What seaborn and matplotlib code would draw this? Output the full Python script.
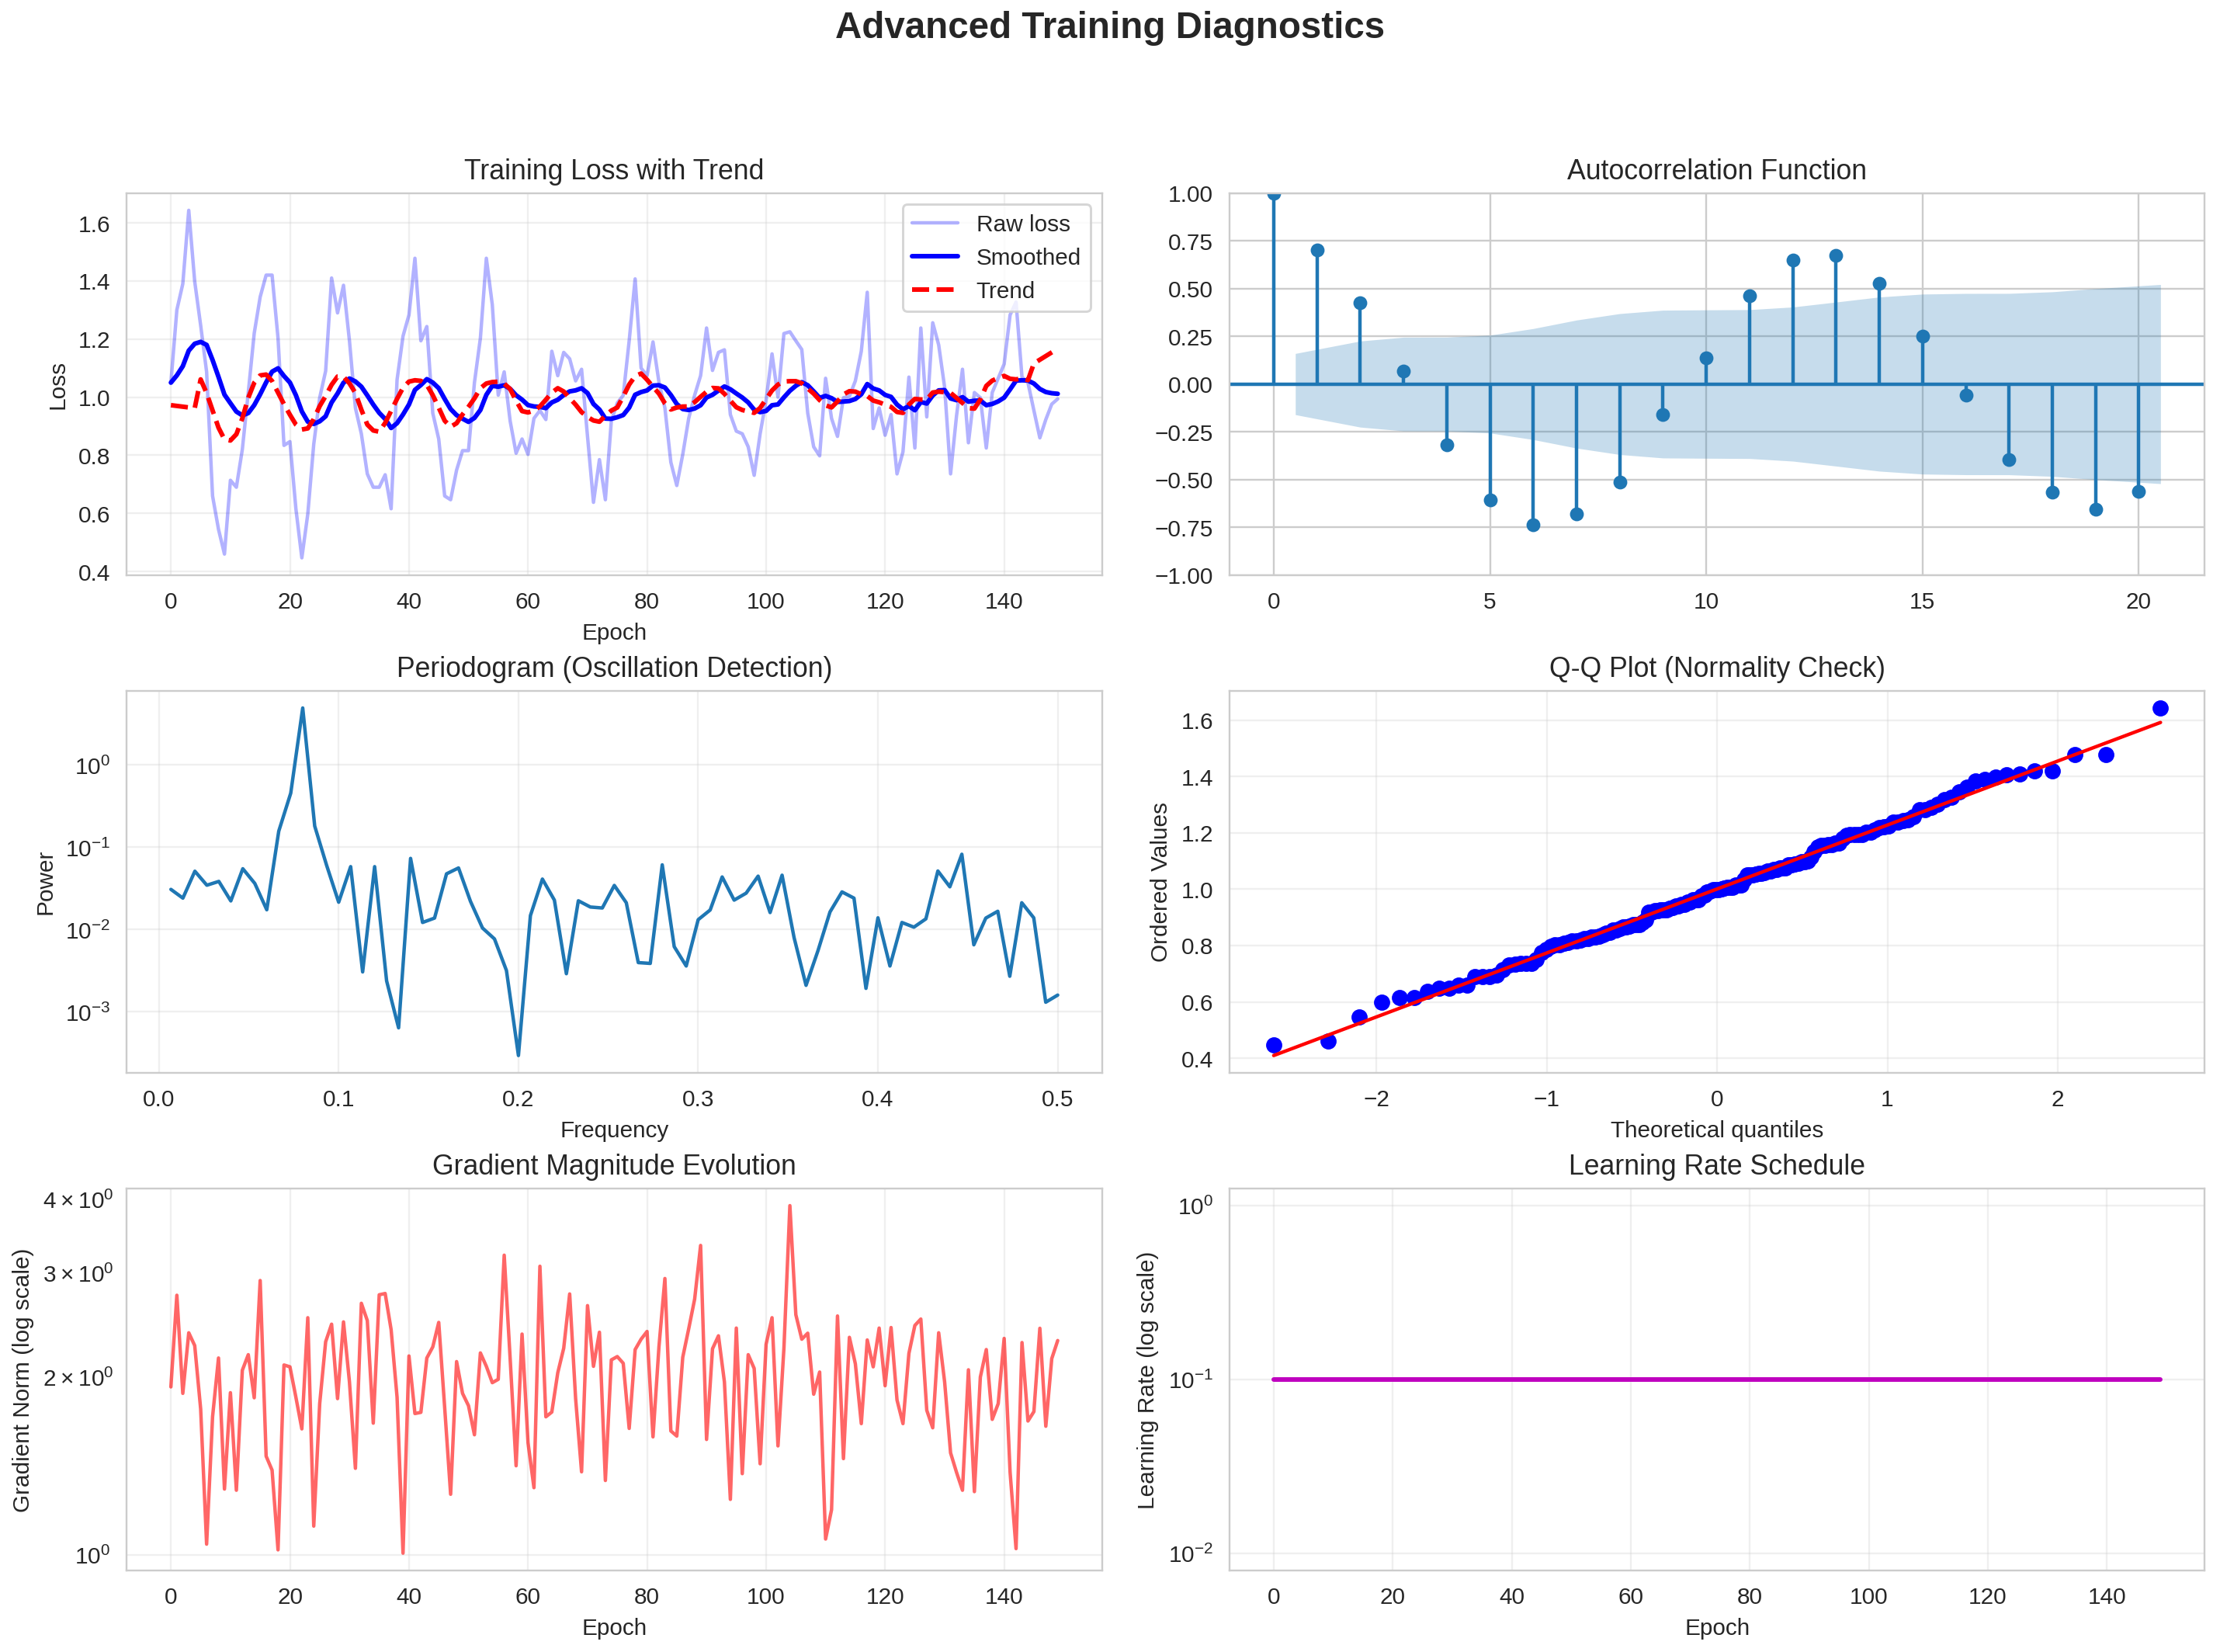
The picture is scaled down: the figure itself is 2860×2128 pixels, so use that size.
from statistics import NormalDist

import matplotlib

matplotlib.use("Agg")

import numpy as np
import matplotlib.pyplot as plt
import seaborn as sns

# --- data ---
raw_loss = [
    1.05, 1.30, 1.39, 1.643, 1.398, 1.247, 1.087, 0.66, 0.545, 0.46,
    0.714, 0.69, 0.82, 1.016, 1.22, 1.345, 1.42, 1.42, 1.203, 0.834,
    0.847, 0.616, 0.447, 0.598, 0.838, 0.998, 1.09, 1.41, 1.29, 1.385,
    1.194, 0.963, 0.874, 0.736, 0.69, 0.69, 0.733, 0.616, 1.06, 1.21,
    1.283, 1.478, 1.194, 1.243, 0.945, 0.856, 0.66, 0.647, 0.749, 0.816,
    0.816, 1.05, 1.203, 1.478, 1.318, 1.007, 1.087, 0.918, 0.807, 0.856,
    0.803, 0.927, 0.954, 0.923, 1.158, 1.074, 1.154, 1.132, 1.056, 1.096,
    0.865, 0.638, 0.785, 0.647, 0.918, 0.98, 1.006, 1.194, 1.407, 1.10,
    1.074, 1.19, 1.052, 0.963, 0.776, 0.696, 0.803, 0.927, 1.007, 1.074,
    1.238, 1.092, 1.154, 1.163, 0.94, 0.883, 0.874, 0.829, 0.731, 0.874,
    0.989, 1.149, 1.0, 1.219, 1.225, 1.194, 1.164, 0.945, 0.829, 0.798,
    1.065, 0.927, 0.865, 0.998, 1.003, 1.056, 1.158, 1.361, 0.892, 0.963,
    0.869, 0.94, 0.736, 0.812, 1.069, 0.825, 1.238, 0.932, 1.256, 1.18,
    1.034, 0.736, 0.936, 1.096, 0.843, 1.016, 0.998, 0.825, 1.016, 1.065,
    1.114, 1.283, 1.327, 1.069, 1.05, 0.954, 0.86, 0.923, 0.976, 0.994,
]

grad_norm = [
    1.925, 2.753, 1.877, 2.378, 2.262, 1.766, 1.042, 1.713, 2.155, 1.292,
    1.882, 1.286, 2.054, 2.183, 1.845, 2.916, 1.469, 1.391, 1.019, 2.097,
    2.082, 1.849, 1.634, 2.522, 1.118, 1.803, 2.296, 2.459, 1.839, 2.481,
    1.963, 1.401, 2.668, 2.494, 1.671, 2.758, 2.772, 2.407, 1.849, 1.006,
    2.172, 1.735, 1.743, 2.155, 2.25, 2.476, 1.775, 1.266, 2.125, 1.877,
    1.789, 1.597, 2.198, 2.086, 1.957, 1.983, 3.219, 2.150, 1.415, 2.366,
    1.549, 1.299, 3.083, 1.713, 1.745, 2.034, 2.239, 2.767, 1.839, 1.382,
    2.644, 2.086, 2.383, 1.336, 2.139, 2.167, 2.111, 1.637, 2.227, 2.319,
    2.39, 1.584, 2.25, 2.939, 1.621, 1.589, 2.161, 2.415, 2.712, 3.344,
    1.568, 2.234, 2.35, 1.963, 1.241, 2.422, 1.372, 2.183, 2.069, 1.426,
    2.273, 2.522, 1.529, 2.24, 3.906, 2.552, 2.319, 2.374, 1.871, 2.04,
    1.063, 1.192, 2.539, 1.455, 2.336, 2.107, 1.668, 2.312, 2.082, 2.422,
    1.934, 2.427, 1.829, 1.668, 2.194, 2.447, 2.509, 1.757, 1.641, 2.378,
    1.963, 1.488, 1.379, 1.286, 2.058, 1.279, 2.0, 2.227, 1.696, 1.803,
    2.326, 1.379, 1.024, 2.289, 1.685, 1.748, 2.42, 1.651, 2.15, 2.307,
]

learning_rate = [0.1] * 150

acf_values = [
    1.0, 0.70, 0.427, 0.067, -0.319, -0.607, -0.737, -0.681, -0.513, -0.159,
    0.136, 0.461, 0.649, 0.675, 0.526, 0.252, -0.058, -0.397, -0.565, -0.655,
    -0.562,
]

power = [
    0.0308, 0.0241, 0.0512, 0.0346, 0.0385, 0.0223, 0.0549, 0.0364, 0.0174, 0.157,
    0.455, 4.93, 0.181, 0.060, 0.0215, 0.0582, 0.00306, 0.0582, 0.00238, 0.00064,
    0.0733, 0.0122, 0.0138, 0.0476, 0.0561, 0.022, 0.01045, 0.0077, 0.00318, 0.000295,
    0.0148, 0.0411, 0.0228, 0.00291, 0.0224, 0.0188, 0.0183, 0.0344, 0.0212, 0.00397,
    0.00388, 0.0612, 0.0062, 0.00361, 0.0132, 0.0173, 0.0436, 0.0228, 0.0277, 0.0446,
    0.0161, 0.0458, 0.0080, 0.0021, 0.00557, 0.0164, 0.0287, 0.0241, 0.00193, 0.0139,
    0.00361, 0.0122, 0.0107, 0.0135, 0.0515, 0.0331, 0.0823, 0.00653, 0.0138, 0.0167,
    0.00271, 0.0212, 0.0139, 0.00131, 0.0016,
]

n = len(raw_loss)
epochs = np.arange(n)
freqs = np.arange(1, len(power) + 1) / n
lags = np.arange(len(acf_values))
loss = np.array(raw_loss)

# smoothed curve: exponential moving average of the raw loss
smoothed = np.empty(n)
smoothed[0] = loss[0]
for i in range(1, n):
    smoothed[i] = 0.9 * smoothed[i - 1] + 0.1 * loss[i]

# trend: centred 2x10 moving average, ends extended linearly
period = 10
filt = np.r_[0.5, np.ones(period - 1), 0.5] / period
half = period // 2
trend = np.full(n, np.nan)
trend[half:n - half] = np.convolve(loss, filt, mode="valid")
front, back = half, n - half - 1
k, c = np.polyfit(np.arange(front, front + period), trend[front:front + period], 1)
trend[:front] = k * np.arange(front) + c
k, c = np.polyfit(np.arange(back - period, back), trend[back - period:back], 1)
trend[back + 1:] = k * np.arange(back + 1, n) + c

# acf confidence band (Bartlett)
acf_arr = np.array(acf_values)
varacf = (1 + 2 * np.cumsum(np.r_[0, acf_arr[1:-1] ** 2])) / n
band = 1.96 * np.sqrt(varacf)
band_x = lags[1:].astype(float)
band_x[0] -= 0.5
band_x[-1] += 0.5

# Q-Q: ordered values against normal order statistic medians
ordered = np.sort(loss)
m = np.empty(n)
m[-1] = 0.5 ** (1.0 / n)
m[0] = 1 - m[-1]
m[1:-1] = (np.arange(2, n) - 0.3175) / (n + 0.365)
theo = np.array([NormalDist().inv_cdf(p) for p in m])
slope, intercept = np.polyfit(theo, ordered, 1)

# --- figure ---
sns.set_style("whitegrid")
plt.rcParams["font.family"] = ["Liberation Sans", "DejaVu Sans"]

DPI = 214
fig, axes = plt.subplots(3, 2, figsize=(2860.5 / DPI, 2128.5 / DPI), dpi=DPI)
fig.subplots_adjust(left=0.057, right=0.993, bottom=0.0493, top=0.883,
                    wspace=0.1305, hspace=0.3018)
fig.suptitle("Advanced Training Diagnostics", fontsize=16, fontweight="bold",
             y=0.9828, va="center")

ax = axes[0, 0]
sns.lineplot(x=epochs, y=loss, ax=ax, color="b", alpha=0.3, label="Raw loss")
sns.lineplot(x=epochs, y=smoothed, ax=ax, color="b", linewidth=2, label="Smoothed")
sns.lineplot(x=epochs, y=trend, ax=ax, color="r", linewidth=2, linestyle="--", label="Trend")
ax.set_title("Training Loss with Trend")
ax.set_xlabel("Epoch")
ax.set_ylabel("Loss")
ax.legend(loc="upper right")
ax.grid(True, alpha=0.3)

ax = axes[0, 1]
ax.vlines(lags, 0, acf_arr, colors="C0")
ax.axhline(0, color="C0")
ax.margins(0.05)
ax.plot(lags, acf_arr, "o", markersize=5, color="C0")
ax.set_ylim(-1, 1)
ax.fill_between(band_x, -band, band, alpha=0.25, color="C0", linewidth=0)
ax.set_title("Autocorrelation Function")

ax = axes[1, 0]
sns.lineplot(x=freqs, y=power, ax=ax, color="C0")
ax.set_yscale("log")
ax.set_title("Periodogram (Oscillation Detection)")
ax.set_xlabel("Frequency")
ax.set_ylabel("Power")
ax.grid(True, alpha=0.3)

ax = axes[1, 1]
ax.plot(theo, ordered, "bo")
ax.plot(theo, slope * theo + intercept, "r-")
ax.set_title("Q-Q Plot (Normality Check)")
ax.set_xlabel("Theoretical quantiles")
ax.set_ylabel("Ordered Values")
ax.grid(True, alpha=0.3)

ax = axes[2, 0]
sns.lineplot(x=epochs, y=grad_norm, ax=ax, color="r", alpha=0.6)
ax.set_yscale("log")
ax.set_title("Gradient Magnitude Evolution")
ax.set_xlabel("Epoch")
ax.set_ylabel("Gradient Norm (log scale)")
ax.grid(True, alpha=0.3)

ax = axes[2, 1]
sns.lineplot(x=epochs, y=learning_rate, ax=ax, color="m", linewidth=2)
ax.set_yscale("log")
ax.set_title("Learning Rate Schedule")
ax.set_xlabel("Epoch")
ax.set_ylabel("Learning Rate (log scale)")
ax.grid(True, alpha=0.3)

fig.savefig("out.png", dpi=DPI)
